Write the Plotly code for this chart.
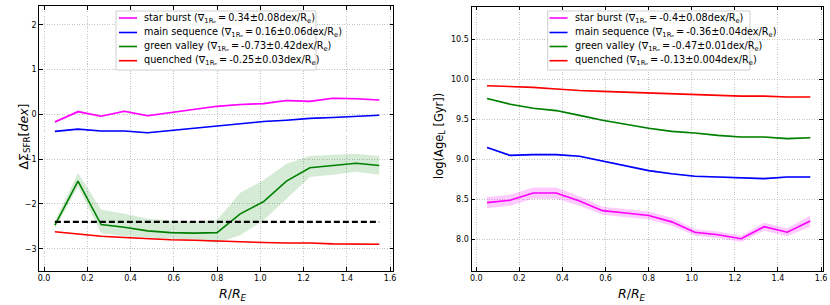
import plotly.graph_objects as go

# ---------------- data ----------------
R = [0.05, 0.157, 0.264, 0.371, 0.479, 0.586, 0.693, 0.8, 0.907, 1.014, 1.121, 1.229, 1.336, 1.443, 1.55]

# left panel: Delta Sigma_SFR [dex]
sfr_sb = [-0.17, 0.06, -0.04, 0.07, -0.03, 0.04, 0.12, 0.18, 0.22, 0.24, 0.31, 0.29, 0.36, 0.35, 0.32]
sfr_sb_err = [0.03, 0.03, 0.02, 0.02, 0.02, 0.02, 0.02, 0.02, 0.02, 0.02, 0.02, 0.02, 0.02, 0.02, 0.02]
sfr_ms = [-0.38, -0.33, -0.37, -0.37, -0.41, -0.36, -0.31, -0.26, -0.21, -0.16, -0.13, -0.09, -0.07, -0.04, -0.02]
sfr_ms_err = [0.01] * 15
sfr_gv = [-2.47, -1.49, -2.46, -2.52, -2.60, -2.64, -2.65, -2.64, -2.22, -1.95, -1.49, -1.19, -1.14, -1.09, -1.14]
sfr_gv_up = [-2.38, -1.31, -2.13, -2.22, -2.33, -2.37, -2.39, -2.36, -1.75, -1.47, -1.10, -0.93, -0.90, -0.88, -0.93]
sfr_gv_lo = [-2.55, -1.62, -2.65, -2.72, -2.75, -2.78, -2.80, -2.87, -2.70, -2.37, -1.88, -1.40, -1.35, -1.28, -1.35]
sfr_q = [-2.62, -2.67, -2.72, -2.75, -2.78, -2.80, -2.81, -2.83, -2.84, -2.86, -2.87, -2.87, -2.89, -2.90, -2.90]
sfr_q_err = [0.01] * 15
gv_threshold = -2.4

# right panel: log(Age_L [Gyr])
age_sb = [8.46, 8.49, 8.58, 8.58, 8.48, 8.36, 8.33, 8.30, 8.22, 8.09, 8.06, 8.01, 8.16, 8.09, 8.23]
age_sb_err = [0.07, 0.07, 0.07, 0.07, 0.06, 0.05, 0.05, 0.05, 0.05, 0.04, 0.04, 0.04, 0.05, 0.05, 0.07]
age_ms = [9.15, 9.05, 9.06, 9.06, 9.04, 8.98, 8.92, 8.86, 8.82, 8.79, 8.78, 8.77, 8.76, 8.78, 8.78]
age_ms_err = [0.01] * 15
age_gv = [9.76, 9.69, 9.64, 9.61, 9.55, 9.49, 9.44, 9.39, 9.35, 9.33, 9.30, 9.28, 9.28, 9.26, 9.27]
age_gv_err = [0.01] * 15
age_q = [9.92, 9.91, 9.90, 9.88, 9.86, 9.85, 9.84, 9.83, 9.82, 9.81, 9.80, 9.79, 9.79, 9.78, 9.78]
age_q_err = [0.005] * 15

names = ["star burst", "main sequence", "green valley", "quenched"]
grad_left = ["0.34±0.08", "0.16±0.06", "-0.73±0.42", "-0.25±0.03"]
grad_right = ["-0.4±0.08", "-0.36±0.04", "-0.47±0.01", "-0.13±0.004"]
colors = ["#ff00ff", "#0000ff", "#008000", "#ff0000"]
bands = ["rgba(255,0,255,0.2)", "rgba(0,0,255,0.2)", "rgba(0,128,0,0.16)", "rgba(255,0,0,0.2)"]

x_ticks = [0.0, 0.2, 0.4, 0.6, 0.8, 1.0, 1.2, 1.4, 1.6]
y_ticks_left = [-3, -2, -1, 0, 1, 2]
y_ticks_right = [8.0, 8.5, 9.0, 9.5, 10.0, 10.5]

# ---------------- figure ----------------
W, H = 830, 305
FONT = "DejaVu Sans"


def px(x):
    return x / W


def py(y):
    return 1 - y / H


fig = go.Figure()


def band(xa, ya, lo, hi, fillcolor):
    fig.add_trace(go.Scatter(x=list(R) + list(R)[::-1], y=list(hi) + list(lo)[::-1],
                             fill="toself", fillcolor=fillcolor, line=dict(width=0),
                             mode="lines", hoverinfo="skip", showlegend=False,
                             xaxis=xa, yaxis=ya))


def line(xa, ya, y, color, width=1.6, dash=None):
    fig.add_trace(go.Scatter(x=R, y=y, mode="lines",
                             line=dict(color=color, width=width, dash=dash),
                             showlegend=False, xaxis=xa, yaxis=ya))


# left panel
left_series = [(sfr_sb, [a - e for a, e in zip(sfr_sb, sfr_sb_err)], [a + e for a, e in zip(sfr_sb, sfr_sb_err)]),
               (sfr_ms, [a - e for a, e in zip(sfr_ms, sfr_ms_err)], [a + e for a, e in zip(sfr_ms, sfr_ms_err)]),
               (sfr_gv, sfr_gv_lo, sfr_gv_up),
               (sfr_q, [a - e for a, e in zip(sfr_q, sfr_q_err)], [a + e for a, e in zip(sfr_q, sfr_q_err)])]
for (y, lo, hi), c, b in zip(left_series, colors, bands):
    band("x", "y", lo, hi, b)
for (y, lo, hi), c in zip(left_series, colors):
    line("x", "y", y, c)
fig.add_trace(go.Scatter(x=[R[0], R[-1]], y=[gv_threshold, gv_threshold], mode="lines",
                         line=dict(color="black", width=2.2, dash="6px,3px"),
                         showlegend=False, xaxis="x", yaxis="y"))

# right panel
right_series = [(age_sb, age_sb_err), (age_ms, age_ms_err), (age_gv, age_gv_err), (age_q, age_q_err)]
for (y, e), c, b in zip(right_series, colors, bands):
    band("x2", "y2", [a - d for a, d in zip(y, e)], [a + d for a, d in zip(y, e)], b)
for (y, e), c in zip(right_series, colors):
    line("x2", "y2", y, c)

# axes
common = dict(showline=True, linecolor="black", linewidth=1.2, mirror="ticks",
              ticks="inside", ticklen=3.5, tickwidth=1, tickcolor="black",
              showgrid=True, gridcolor="#c4c4c4", gridwidth=0.8, griddash="1px,1.5px",
              zeroline=False, tickfont=dict(family=FONT, size=8, color="black"),
              automargin=False)

fig.update_layout(
    width=W, height=H, margin=dict(l=0, r=0, t=0, b=0),
    paper_bgcolor="white", plot_bgcolor="white", showlegend=False,
    xaxis=dict(domain=[px(39.3), px(393.3)], range=[-0.022, 1.615], tickvals=x_ticks,
               tickformat=".1f", anchor="y", **common),
    yaxis=dict(domain=[py(270.7), py(6)], range=[-3.49, 2.42], tickvals=y_ticks_left,
               anchor="x", **common),
    xaxis2=dict(domain=[px(471.5), px(823)], range=[-0.022, 1.609], tickvals=x_ticks,
                tickformat=".1f", anchor="y2", **common),
    yaxis2=dict(domain=[py(270.7), py(6.5)], range=[7.61, 10.91], tickvals=y_ticks_right,
                tickformat=".1f", anchor="x2", **common),
)

annotations = []
shapes = []

# axis titles
annotations.append(dict(x=px(13), y=py(137), xref="paper", yref="paper", textangle=-90,
                        text="ΔΣ<sub>SFR</sub>[<i>dex</i>]", showarrow=False,
                        font=dict(family=FONT, size=12.5, color="black")))
annotations.append(dict(x=px(439), y=py(136), xref="paper", yref="paper", textangle=-90,
                        text="log(Age<sub>L</sub> [Gyr])", showarrow=False,
                        font=dict(family=FONT, size=11.5, color="black")))
for cx in (216.5, 648):
    annotations.append(dict(x=px(cx), y=py(283.5), xref="paper", yref="paper", yanchor="top",
                            text="<i>R</i>/<i>R<sub>E</sub></i>", showarrow=False,
                            font=dict(family=FONT, size=12.5, color="black")))


# custom legends
def legend(box_l, box_r, grads, line_l, line_r, text_l):
    shapes.append(dict(type="rect", xref="paper", yref="paper",
                       x0=px(box_l), x1=px(box_r), y0=py(70), y1=py(11),
                       line=dict(color="#d0d0d0", width=1), fillcolor="rgba(255,255,255,0.85)",
                       layer="above"))
    for i, (n, g, c) in enumerate(zip(names, grads, colors)):
        yy = [18, 32.5, 46.5, 60.7][i]
        shapes.append(dict(type="line", xref="paper", yref="paper",
                           x0=px(line_l), x1=px(line_r), y0=py(yy), y1=py(yy),
                           line=dict(color=c, width=1.6), layer="above"))
        annotations.append(dict(x=px(text_l), y=py(yy), xref="paper", yref="paper",
                                xanchor="left", yanchor="middle", showarrow=False,
                                text=f"{n} (∇<sub>1Rₑ</sub>\u2009=\u2009{g}dex/R<sub>e</sub>)",
                                font=dict(family=FONT, size=9.7, color="black")))


legend(116, 316, grad_left, 119, 137, 142)
legend(547.7, 750, grad_right, 549.5, 567.5, 573)

fig.update_layout(annotations=annotations, shapes=shapes)
fig.write_html("out.html", config={"displayModeBar": False},
               post_script="document.body.style.margin='0';document.body.style.overflow='hidden';")
